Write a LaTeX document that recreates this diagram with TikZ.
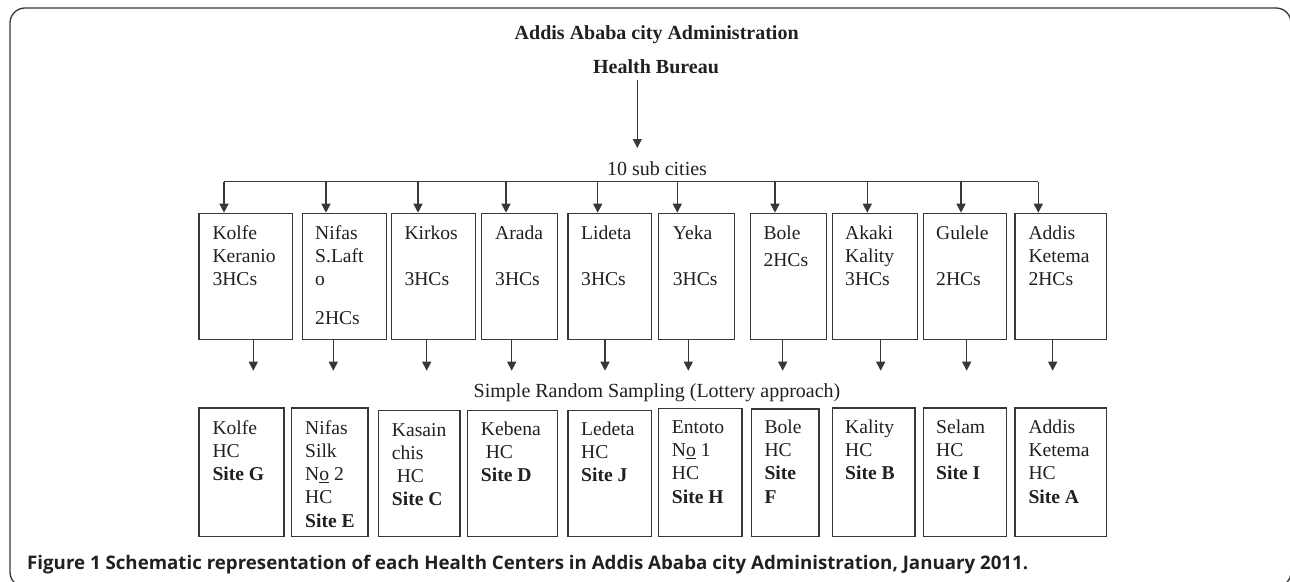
\documentclass[tikz,border=0pt]{standalone}
\usepackage{fontspec}
\setmainfont{Liberation Serif}
\newfontfamily\capfont{Open Sans}
\usetikzlibrary{arrows.meta}
\definecolor{ln}{HTML}{383838}
\definecolor{tx}{HTML}{231F20}
\newcommand\tb[1]{\begin{tabular}[t]{@{}l@{}}#1\end{tabular}}
\tikzset{
  box/.style={draw=ln, line width=1.3pt, inner sep=0pt, anchor=north west},
  lbl/.style={anchor=base west, inner sep=0pt, text=tx, font=\fontsize{19.6}{23.3}\selectfont},
  head/.style={anchor=base, inner sep=0pt, text=tx, font=\bfseries\fontsize{20}{24}\selectfont},
  mid/.style={anchor=base, inner sep=0pt, text=tx, font=\fontsize{20}{24}\selectfont},
  arr/.style={draw=ln, line width=1.4pt, -{Triangle[length=9pt,width=9pt]}},
  bus/.style={draw=ln, line width=1.4pt},
  frame/.style={draw=ln, line width=1.3pt, rounded corners=15pt}
}
\begin{document}
\begin{tikzpicture}[x=1pt,y=-1pt]
\useasboundingbox (0,0) rectangle (1290,581);
\clip (0,0) rectangle (1290,581);
\draw[frame] (10,8) rectangle (1291,587);

\node[head] (adm) at (656.7,39.3) {Addis Ababa city Administration};
\node[head] (hb) at (656,73.3) {Health Bureau};
\node[mid] (sub) at (657,175) {10 sub cities};
\node[mid] (srs) at (657,397.3) {Simple Random Sampling (Lottery approach)};

\coordinate (a0s) at (637.3,80);
\coordinate (a0e) at (637.3,148);
\draw[arr] (a0s) -- (a0e);

% top boxes
\foreach \i/\xl/\xr/\ax/\bx in {1/198.3/291.7/224/253.3, 2/301.7/385.7/326/333.3,
  3/391/475/418/426.7, 4/480.7/556.7/506/511.7, 5/567.3/650.7/597.7/605,
  6/658/734/677.3/688.3, 7/750/826/775/782.7, 8/831.7/916.7/867.3/880.7,
  9/922.7/1006/961/966.7, 10/1014.3/1106/1038.3/1052.7} {
  \node[box, minimum width={\xr-\xl}, minimum height=126.3] (t\i) at (\xl,212.7) {};
  \coordinate (bus\i) at (\ax,181.7);
  \draw[arr] (bus\i) -- (bus\i |- t\i.north);
  \coordinate (lo\i) at (\bx,370.7);
  \draw[arr] (lo\i |- t\i.south) -- (lo\i);
}
\draw[bus] (bus1) -- (bus10);

% bottom boxes
\foreach \i/\xl/\xr/\yt in {1/198.3/283.3/407.3, 2/291/367.3/407.3,
  3/377.7/459.3/410, 4/466.7/556.7/410, 5/567.3/650.7/410,
  6/658/741.3/407.7, 7/751/818.3/408.3, 8/831.7/914.3/407.3,
  9/922.7/1006/407.3, 10/1014.3/1106/407.3} {
  \node[box, minimum width={\xr-\xl}, minimum height={536-\yt}] (b\i) at (\xl,\yt) {};
}

% top texts
\node[lbl] (tt1) at (212.3,239) {\tb{Kolfe\\Keranio\\3HCs}};
\node[lbl] (tt2) at (315,239) {\tb{Nifas\\S.Laft\\o\\[15.3pt]2HCs}};
\node[lbl] (tt3) at (404.3,239) {\tb{Kirkos\\ \\3HCs}};
\node[lbl] (tt4) at (495,239) {\tb{Arada\\ \\3HCs}};
\node[lbl] (tt5) at (581,239) {\tb{Lideta\\ \\3HCs}};
\node[lbl] (tt6) at (672.7,239) {\tb{Yeka\\ \\3HCs}};
\node[lbl] (tt7) at (763.3,239) {\tb{Bole\\[4.4pt]2HCs}};
\node[lbl] (tt8) at (845,239) {\tb{Akaki\\Kality\\3HCs}};
\node[lbl] (tt9) at (936,239) {\tb{Gulele\\ \\2HCs}};
\node[lbl] (tt10) at (1028.3,239) {\tb{Addis\\Ketema\\2HCs}};

% bottom texts
\node[lbl] (bt1) at (212.3,434) {\tb{Kolfe\\HC\\\textbf{Site G}}};
\node[lbl] (bt2) at (305,434) {\tb{Nifas\\Silk\\N\underline{o} 2\\HC\\\textbf{Site E}}};
\node[lbl] (bt3) at (391.7,436) {\tb{Kasain\\chis\\\ HC\\\textbf{Site C}}};
\node[lbl] (bt4) at (480.7,435) {\tb{Kebena\\\ HC\\\textbf{Site D}}};
\node[lbl] (bt5) at (581,435) {\tb{Ledeta\\HC\\\textbf{Site J}}};
\node[lbl] (bt6) at (671.7,433.3) {\tb{Entoto\\N\underline{o} 1\\HC\\\textbf{Site H}}};
\node[lbl] (bt7) at (764.3,433.3) {\tb{Bole\\HC\\\textbf{Site}\\\textbf{F}}};
\node[lbl] (bt8) at (845,433.3) {\tb{Kality\\HC\\\textbf{Site B}}};
\node[lbl] (bt9) at (936,433.3) {\tb{Selam\\HC\\\textbf{Site I}}};
\node[lbl] (bt10) at (1028.3,433.3) {\tb{Addis\\Ketema\\HC\\\textbf{Site A}}};

\node[anchor=base west, inner sep=0pt, text=tx, font=\capfont\bfseries\fontsize{18.7}{22}\selectfont] (cap) at (27,569)
  {Figure 1 Schematic representation of each Health Centers in Addis Ababa city Administration, January 2011.};
\end{tikzpicture}
\end{document}
